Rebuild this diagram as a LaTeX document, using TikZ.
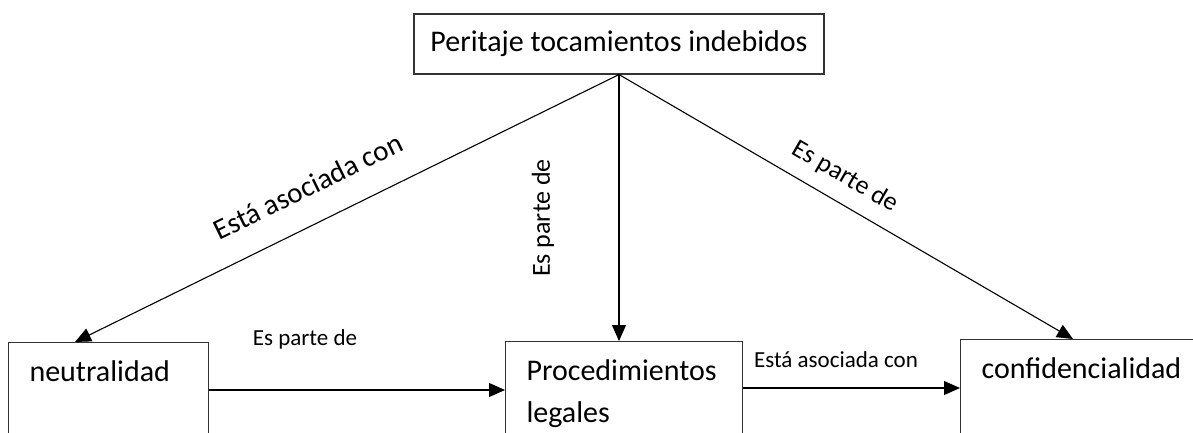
\documentclass[tikz,border=0pt]{standalone}
\usepackage{fontspec}
\setmainfont{Carlito}
\usetikzlibrary{arrows.meta}

\tikzset{every picture/.style={line width=1.1pt}}
\tikzset{
  box/.style={draw=black!80, rectangle, anchor=north west, align=left, inner xsep=21pt, inner ysep=0pt, text height=39pt, text depth=90pt, font=\fontsize{30}{42}\selectfont},
  conn/.style={draw=black, -{Triangle[length=16pt,width=14pt]}},
  lbl/.style={inner sep=0pt, font=\fontsize{26}{31}\selectfont},
  lblsmall/.style={inner sep=0pt, anchor=base, font=\fontsize{23}{28}\selectfont},
}

\begin{document}
\begin{tikzpicture}[x=1pt,y=1pt,yscale=-1,xscale=1]
\useasboundingbox (0,0) rectangle (1193,432);
\clip (0,0) rectangle (1193,432);

% Boxes
\node [draw=black!80, minimum width=410pt, minimum height=60pt, inner sep=0pt, font=\fontsize{30}{36}\selectfont] (peritaje) at (619,44) {Peritaje tocamientos indebidos};
\node [box, text width=158pt] (neutral) at (8,342) {neutralidad};
\node [box, text width=195pt] (proc) at (505,341) {Procedimientos\\legales};
\node [box, text width=250pt] (confid) at (960,339) {confidencialidad};

% Connectors
\draw [conn] (peritaje.south) -- (neutral.north -| 75,0);
\draw [conn] (peritaje.south) -- (peritaje.south |- proc.north);
\draw [conn] (peritaje.south) -- (confid.north -| 1073,0);
\draw [conn] (neutral.east |- 0,390) -- (proc.west |- 0,390);
\draw [conn] (proc.east |- 0,388) -- (confid.west |- 0,388);

% Labels
\node [lbl, font=\fontsize{29}{35}\selectfont, rotate=26] (asocA) at (308,186) {Está asociada con};
\node [lbl, rotate=90] (parteA) at (543,218) {Es parte de};
\node [lbl, rotate=-30] (parteB) at (845,177) {Es parte de};
\node [lblsmall] (parteC) at (305,345) {Es parte de};
\node [lblsmall] (asocB) at (836,367) {Está asociada con};

\end{tikzpicture}
\end{document}
